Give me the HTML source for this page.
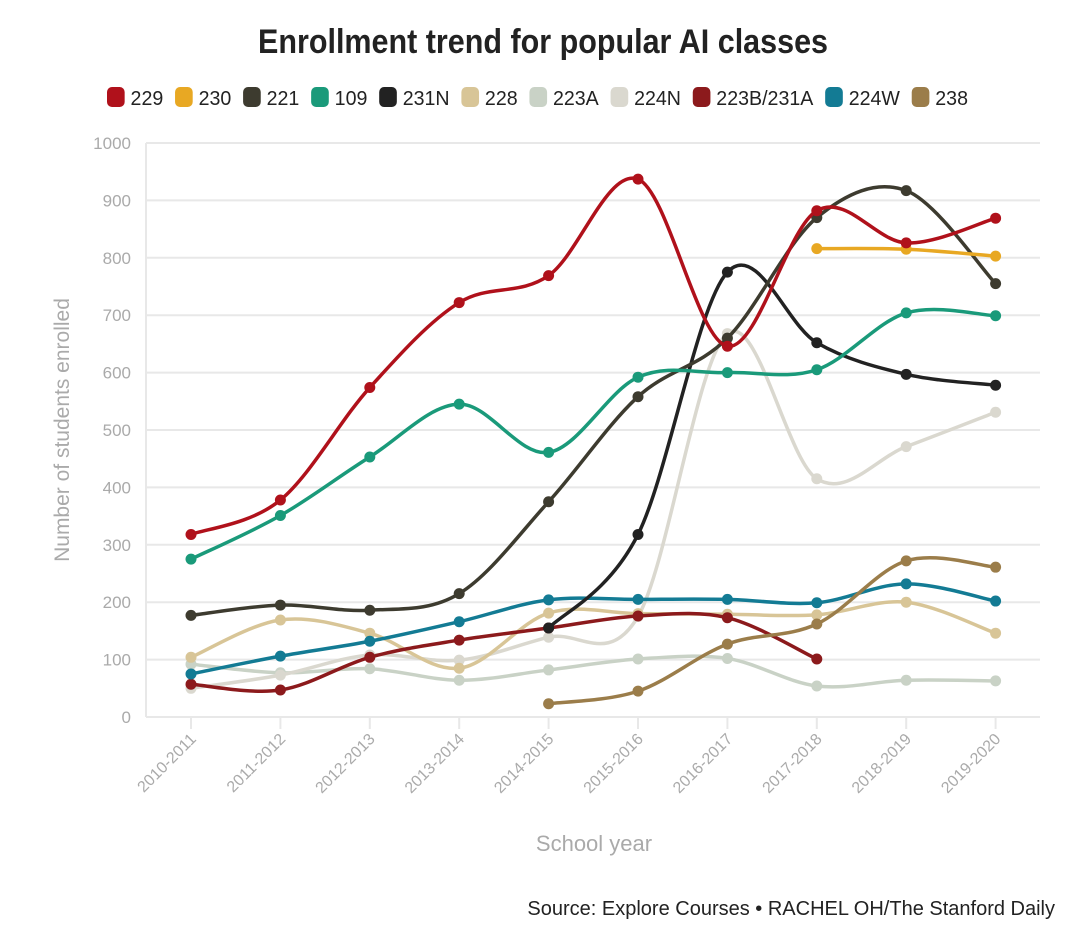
<!DOCTYPE html>
<html><head><meta charset="utf-8"><style>
body{margin:0;background:#fff;width:1080px;height:937px;overflow:hidden;font-family:"Liberation Sans Narrow","Liberation Sans",sans-serif}
svg text{font-family:"Liberation Sans Narrow","Liberation Sans",sans-serif}
</style></head><body>
<svg id="chart" width="1080" height="937">
<text x="258" y="53" textLength="570" lengthAdjust="spacingAndGlyphs" font-size="34" font-weight="bold" fill="#222">Enrollment trend for popular AI classes</text>
<g id="legend"></g>
<g id="grid"></g>
<g id="series"></g>
<text transform="translate(69,430) rotate(-90)" text-anchor="middle" font-size="21" fill="#aaa">Number of students enrolled</text>
<text x="594" y="851" text-anchor="middle" font-size="22" fill="#aaa">School year</text>
<text x="1055" y="915" text-anchor="end" font-size="20" fill="#222">Source: Explore Courses • RACHEL OH/The Stanford Daily</text>
</svg>
<script>
const categories=["2010-2011","2011-2012","2012-2013","2013-2014","2014-2015","2015-2016","2016-2017","2017-2018","2018-2019","2019-2020"];
const yTicks=[0,100,200,300,400,500,600,700,800,900,1000];
const seriesNames=["229","230","221","109","231N","228","223A","224N","223B/231A","224W","238"];
const seriesColors=["#b0111b","#e8a823","#3d3b2f","#1a9a7a","#222222","#d8c597","#c9d2c6","#dad8cf","#8c1a1c","#137b94","#9b7d4a"];
const s229=[318,378,574,722,769,937,646,882,826,869];
const s230=[null,null,null,null,null,null,null,816,815,803];
const s221=[177,195,186,215,375,558,660,870,917,755];
const s109=[275,351,453,545,461,592,600,605,704,699];
const s231N=[null,null,null,null,155,318,775,652,597,578];
const s228=[104,169,146,85,181,180,179,178,200,146];
const s223A=[92,77,84,64,82,101,102,54,64,63];
const s224N=[50,73,108,99,139,175,668,415,471,531];
const s223B=[57,47,104,134,155,176,173,101,null,null];
const s224W=[75,106,132,166,204,205,205,199,232,202];
const s238=[null,null,null,null,23,45,127,162,272,261];
const seriesData=[s229,s230,s221,s109,s231N,s228,s223A,s224N,s223B,s224W,s238];
const drawOrder=[6,7,5,8,9,10,4,2,3,1,0];

const NS="http://www.w3.org/2000/svg";
const X0=191,DX=89.4,Y0=717,YS=0.574;
const xS=i=>X0+i*DX, yS=v=>Y0-v*YS;
function mk(t,a,p){const e=document.createElementNS(NS,t);for(const k in a)e.setAttribute(k,a[k]);p.appendChild(e);return e;}
const grid=document.getElementById('grid');
yTicks.forEach(v=>{
 const l=mk('line',{x1:146,x2:1040,y1:yS(v),y2:yS(v),stroke:'#e8e8e8','stroke-width':2},grid);
 
 
 const t=mk('text',{x:131,y:yS(v)+6,'text-anchor':'end','font-size':17,fill:'#aaa'},grid);
 t.textContent=v;
 
 
});
mk('line',{x1:146,x2:146,y1:yS(1000),y2:Y0,stroke:'#e8e8e8','stroke-width':2},grid);
categories.forEach((c,i)=>{
 const tk=mk('line',{x1:xS(i),x2:xS(i),y1:Y0,y2:Y0+12,stroke:'#e8e8e8','stroke-width':2},grid);
 
 
 const t=mk('text',{transform:`translate(${xS(i)+6},${Y0+23}) rotate(-45)`,'text-anchor':'end','font-size':16,fill:'#aaa'},grid);
 t.textContent=c;
 
 
});
function pathFor(pts){
 let d=`M${pts[0][0]},${pts[0][1]}`;
 for(let i=0;i<pts.length-1;i++){
  const p0=pts[i-1]||pts[i],p1=pts[i],p2=pts[i+1],p3=pts[i+2]||p2;
  const c1=[p1[0]+(p2[0]-p0[0])/6,p1[1]+(p2[1]-p0[1])/6];
  const c2=[p2[0]-(p3[0]-p1[0])/6,p2[1]-(p3[1]-p1[1])/6];
  d+=` C${c1[0]},${c1[1]} ${c2[0]},${c2[1]} ${p2[0]},${p2[1]}`;
 }
 return d;
}
const sg=document.getElementById('series');
drawOrder.forEach(si=>{
 const g=mk('g',{},sg);
 
 
 const pts=[];
 seriesData[si].forEach((v,i)=>{if(v!==null)pts.push([xS(i),yS(v)]);});
 const p=mk('path',{d:pathFor(pts),fill:'none',stroke:seriesColors[si],'stroke-width':3.5},g);
 
 
 pts.forEach(q=>{
  const c=mk('circle',{cx:q[0],cy:q[1],r:5.5,fill:seriesColors[si]},g);
  
  
 });
});
const lg=document.getElementById('legend');
let lx=107;
seriesNames.forEach((n,i)=>{
 const g=mk('g',{},lg);
 
 
 mk('rect',{x:lx,y:87,width:18,height:20,rx:5,fill:seriesColors[i]},g);
 const t=mk('text',{x:lx+24,y:105,'font-size':20,fill:'#222'},g);
 t.textContent=n;
 lx+=24+t.getComputedTextLength()+12;
});
const sc=(968-107)/(lx-12-107);
lg.setAttribute('transform',`translate(107,0) scale(${sc},1) translate(-107,0)`);
</script>
</body></html>
